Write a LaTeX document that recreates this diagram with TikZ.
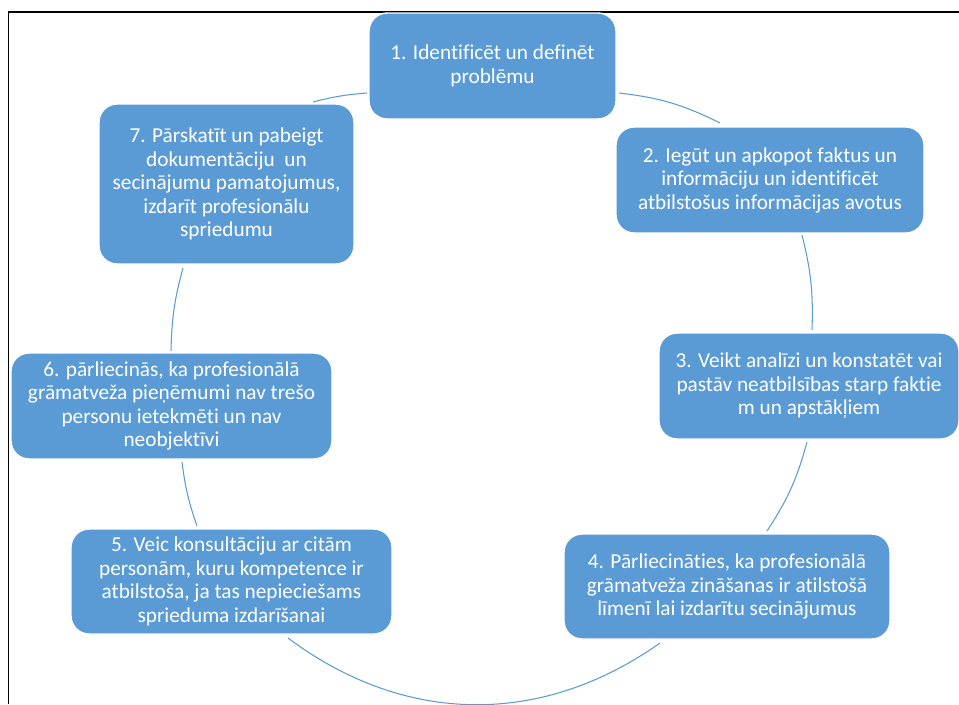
\documentclass[tikz,border=0pt]{standalone}
\usepackage{fontspec}
\usepackage{tikz}
\usetikzlibrary{positioning}
\newfontfamily\boxfont[Ligatures=NoCommon]{Carlito}
\definecolor{stepblue}{RGB}{91,155,213}
\tikzset{
  stepbox/.style={rectangle, fill=stepblue, draw=white, line width=0.8pt,
    rounded corners=0.36cm, align=center, text=white, inner sep=0pt,
    minimum height=2.12cm, font={\boxfont\fontsize{12.1}{13.4}\selectfont}},
  link/.style={draw=stepblue, line width=0.6pt},
  frame/.style={black, line width=1.1pt}
}
\begin{document}
\begin{tikzpicture}[x=0.02cm, y=-0.02cm]
  \useasboundingbox (0,0) rectangle (959,704);

  % Frame
  \draw[frame] (8.5,704) -- (8.5,12) -- (959,12);

  % Arc end points
  \coordinate (a71) at (313,102);  \coordinate (b71) at (367,93);
  \coordinate (a12) at (619,93);   \coordinate (b12) at (720,123);
  \coordinate (a23) at (802,235);  \coordinate (b23) at (812,330);
  \coordinate (a34) at (807,442);  \coordinate (b34) at (767,531);
  \coordinate (a45) at (660,643);  \coordinate (b45) at (288,638);
  \coordinate (a56) at (197,526);  \coordinate (b56) at (182,462);
  \coordinate (a67) at (171,351);  \coordinate (b67) at (183,268);

  % Cycle arcs
  \draw[link] (a71) to[bend left=5] (b71);
  \draw[link] (a12) to[bend left=10] (b12);
  \draw[link] (a23) to[bend left=8] (b23);
  \draw[link] (a34) to[bend left=9] (b34);
  \draw[link] (a45) to[bend left=36] (b45);
  \draw[link] (a56) to[bend left=6] (b56);
  \draw[link] (a67) to[bend left=7] (b67);

  % Steps
  \node[stepbox, minimum width=4.94cm] (n1) at (492.5,66)
    {1. Identificēt un definēt\\problēmu};
  \node[stepbox, minimum width=6.16cm] (n2) at (770,180)
    {2. Iegūt un apkopot faktus un\\informāciju un identificēt\\atbilstošus informācijas avotus};
  \node[stepbox, minimum width=6.0cm] (n3) at (809,386)
    {3. Veikt analīzi un konstatēt vai\\pastāv neatbilsības starp faktie\\m un apstākļiem};
  \node[stepbox, minimum width=6.52cm, minimum height=2.1cm] (n4) at (727,586.5)
    {4. Pārliecināties, ka profesionālā\\grāmatveža zināšanas ir atilstošā\\līmenī lai izdarītu secinājumus};
  \node[stepbox, minimum width=6.42cm, minimum height=2.1cm] (n5) at (231.5,581.5)
    {5. Veic konsultāciju ar citām\\personām, kuru kompetence ir\\atbilstoša, ja tas nepieciešams\\sprieduma izdarīšanai};
  \node[stepbox, minimum width=6.42cm] (n6) at (171.5,406)
    {6. pārliecinās, ka profesionālā\\grāmatveža pieņēmumi nav trešo\\personu ietekmēti un nav\\neobjektīvi};
  \node[stepbox, minimum width=5.1cm, minimum height=3.2cm] (n7) at (226.5,184)
    {7. Pārskatīt un pabeigt\\dokumentāciju\ \ un\\secinājumu pamatojumus,\\izdarīt profesionālu\\spriedumu};
\end{tikzpicture}
\end{document}
